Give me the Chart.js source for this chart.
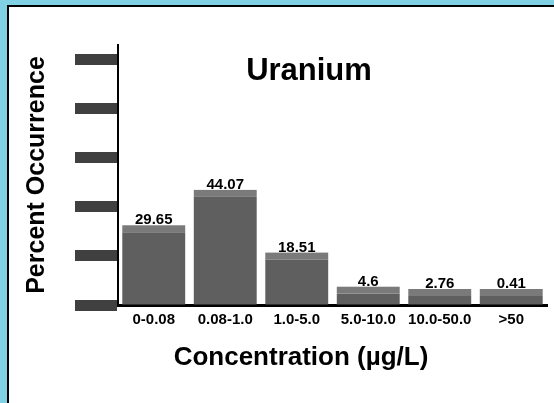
<!DOCTYPE html>
<html>
<head>
<meta charset="utf-8">
<script src="https://cdn.jsdelivr.net/npm/chart.js@4.4.0/dist/chart.umd.min.js"></script>
<style>
  html, body { margin: 0; padding: 0; background: #7fd1e3; overflow: hidden; }
  #panel {
    position: absolute; left: 7px; top: 5px;
    width: 545px; height: 396px;
    background: #fff;
    border-left: 2px solid #000; border-top: 2px solid #000;
  }
  #chart { display: block; }
</style>
</head>
<body>
<div id="panel"><canvas id="chart" width="545" height="396"></canvas></div>
<script>
var categorias = ['0-0.08', '0.08-1.0', '1.0-5.0', '5.0-10.0', '10.0-50.0', '>50'];
var porcentajes = [29.65, 44.07, 18.51, 4.6, 2.76, 0.41];
var etiquetas = ['29.65', '44.07', '18.51', '4.6', '2.76', '0.41'];
var titulo = 'Uranium';
var tituloX = 'Concentration (µg/L)';
var tituloY = 'Percent Occurrence';

var fuente = 'Arial, "Liberation Sans", sans-serif';
var cara = 7; // alto de la cara superior (efecto 3D)

// cara superior de las barras, titulo, titulo del eje x y valores
var textos = {
    id: 'textos',
    afterDatasetsDraw: function (chart) {
        var ctx = chart.ctx;
        var meta = chart.getDatasetMeta(0);
        ctx.save();
        meta.data.forEach(function (barra) {
            ctx.fillStyle = '#7a7a7a';
            ctx.fillRect(barra.x - barra.width / 2, barra.y - cara, barra.width, cara);
        });

        ctx.fillStyle = '#000';
        ctx.textAlign = 'center';
        ctx.textBaseline = 'middle';
        ctx.font = 'bold 31px ' + fuente;
        ctx.fillText(titulo, 300, 64);

        ctx.font = 'bold 26px ' + fuente;
        ctx.fillText(tituloX, 292, 351);

        ctx.font = 'bold 15px ' + fuente;
        ctx.textBaseline = 'alphabetic';
        meta.data.forEach(function (barra, i) {
            ctx.fillText(etiquetas[i], barra.x, barra.y - cara - 1);
        });
        ctx.restore();
    }
};

var ctx = document.getElementById('chart');
var grafico = new Chart(ctx, {
    type: 'bar',
    data: {
        labels: categorias,
        datasets: [{
            data: porcentajes,
            backgroundColor: '#5f5f5f',
            borderWidth: 0,
            minBarLength: 9,
            barPercentage: 0.88,
            categoryPercentage: 1.0,
        }],
    },
    options: {
        responsive: false,
        animation: false,
        layout: {
            padding: { left: 6, top: 38, right: 7, bottom: 68 }
        },
        plugins: {
            legend: { display: false },
            tooltip: { enabled: false },
        },
        scales: {
            x: {
                grid: { display: false, drawTicks: false },
                border: { display: true, color: '#000', width: 3 },
                ticks: {
                    color: '#000',
                    padding: 6,
                    font: { family: fuente, size: 15, weight: 'bold' },
                    maxRotation: 0,
                },
            },
            y: {
                min: 0,
                max: 106,
                grid: {
                    display: true,
                    drawOnChartArea: false,
                    drawTicks: true,
                    tickLength: 43,
                    tickWidth: 11,
                    tickColor: '#404040',
                },
                border: { display: true, color: '#000', width: 2 },
                ticks: {
                    display: false,
                    stepSize: 20,
                    includeBounds: false,
                },
                title: {
                    display: true,
                    text: tituloY,
                    color: '#000',
                    font: { family: fuente, size: 25, weight: 'bold' },
                    padding: { top: 7, bottom: 23 },
                },
            },
        },
    },
    plugins: [textos],
});
</script>
</body>
</html>
